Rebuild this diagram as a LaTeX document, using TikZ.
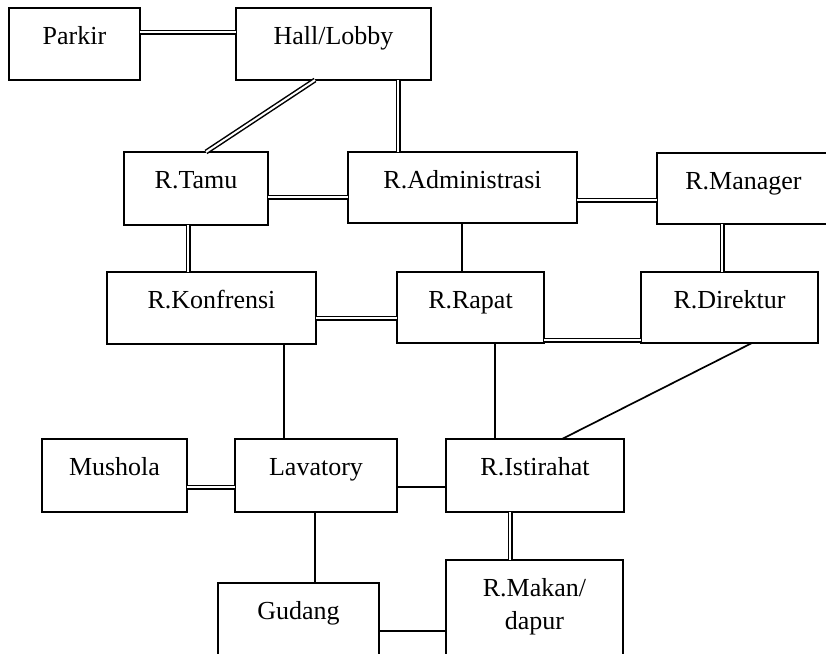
\documentclass[tikz,border=0pt]{standalone}
\usepackage{fontspec}
\setmainfont{Liberation Serif}
\tikzset{
  roombox/.style={draw, rectangle, line width=2.2pt, inner sep=0pt, outer sep=0pt},
  roomtext/.style={font=\fontsize{26}{33}\selectfont, inner sep=0pt},
  dbl/.style={double, double distance=2pt, line width=1.5pt},
  sgl/.style={line width=1.7pt},
  thn/.style={line width=1.2pt}
}
\newcommand\mkroom[6]{%
  \node[roombox, minimum width={#4-#2}, minimum height={#5-#3}, anchor=north west] (#1) at (#2,#3) {};
  \node[roomtext, anchor=base] (#1-t) at ([yshift=-36pt]#1.north) {#6};
}
\begin{document}
\begin{tikzpicture}[x=1pt,y=-1pt]
\useasboundingbox (0,0) rectangle (826,653);
\clip (0,0) rectangle (826,653);
\fill[white] (0,0) rectangle (826,653);
\mkroom{parkir}{9}{8}{140}{80}{Parkir}
\mkroom{hall}{236}{8}{431}{80}{Hall/Lobby}
\mkroom{tamu}{124}{152}{268}{225}{R.Tamu}
\mkroom{admin}{348}{152}{577}{223}{R.Administrasi}
\mkroom{manager}{657}{153}{830}{224}{R.Manager}
\mkroom{konf}{107}{272}{316}{344}{R.Konfrensi}
\mkroom{rapat}{397}{272}{544}{343}{R.Rapat}
\mkroom{direktur}{641}{272}{818}{343}{R.Direktur}
\mkroom{mushola}{42}{439}{187}{512}{Mushola}
\mkroom{lavatory}{235}{439}{397}{512}{Lavatory}
\mkroom{istirahat}{446}{439}{624}{512}{R.Istirahat}
\mkroom{makan}{446}{560}{623}{680}{\begin{tabular}[t]{@{}c@{}}R.Makan/\\dapur\end{tabular}}
\mkroom{gudang}{218}{583}{379}{680}{Gudang}
% connectors
\draw[dbl] (parkir.east |- 0,32) -- (hall.west |- 0,32);
\draw[dbl] (hall.south -| 315,0) -- (tamu.north -| 206,0);
\draw[dbl] (hall.south -| 398,0) -- (admin.north -| 398,0);
\draw[dbl] (tamu.east |- 0,197) -- (admin.west |- 0,197);
\draw[dbl] (admin.east |- 0,200) -- (manager.west |- 0,200);
\draw[dbl] (tamu.south -| 188,0) -- (konf.north -| 188,0);
\draw[thn] (admin.south -| 462,0) -- (rapat.north -| 462,0);
\draw[dbl] (manager.south -| 722,0) -- (direktur.north -| 722,0);
\draw[dbl] (konf.east |- 0,318) -- (rapat.west |- 0,318);
\draw[dbl] (rapat.east |- 0,340) -- (direktur.west |- 0,340);
\draw[sgl] (konf.south -| 284,0) -- (lavatory.north -| 284,0);
\draw[thn] (rapat.south -| 495,0) -- (istirahat.north -| 495,0);
\draw[sgl] (direktur.south -| 752,0) -- (istirahat.north -| 562,0);
\draw[dbl] (mushola.east |- 0,487) -- (lavatory.west |- 0,487);
\draw[sgl] (lavatory.east |- 0,487) -- (istirahat.west |- 0,487);
\draw[sgl] (lavatory.south -| 315,0) -- (gudang.north -| 315,0);
\draw[dbl] (istirahat.south -| 510,0) -- (makan.north -| 510,0);
\draw[sgl] (gudang.east |- 0,631) -- (makan.west |- 0,631);
\end{tikzpicture}
\end{document}
